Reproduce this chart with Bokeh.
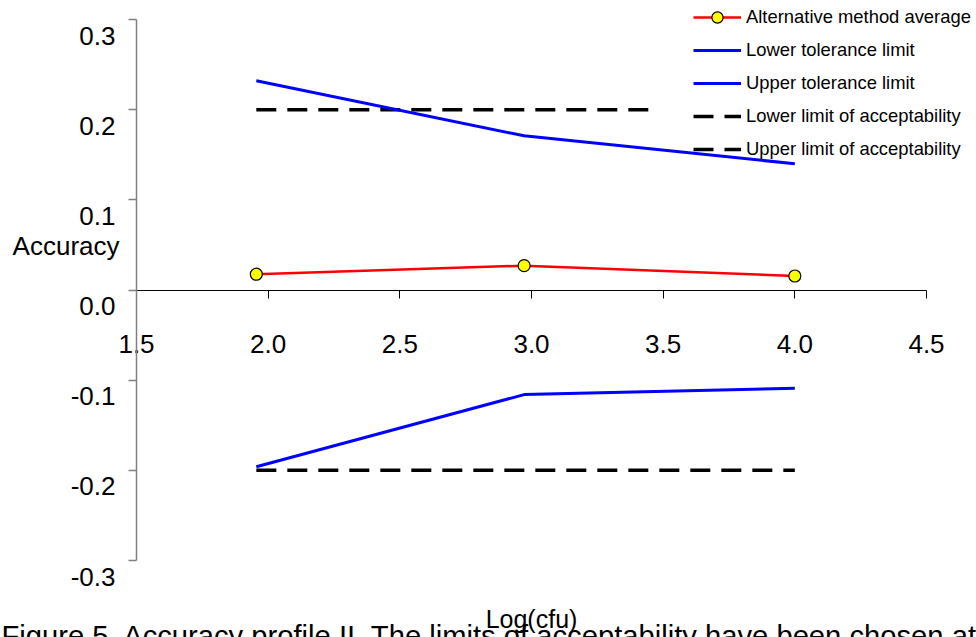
from bokeh.plotting import figure
from bokeh.models import Range1d, LinearAxis, FixedTicker, Legend, LegendItem, Label, CustomJSTickFormatter
from bokeh.core.properties import value
from bokeh.embed import file_html
from bokeh.resources import INLINE

# ---- data ----
log_cfu = [1.955, 2.972, 4.0]
alt_mean = [0.0175, 0.027, 0.0155]
lower_tol = [-0.196, -0.116, -0.109]
upper_tol = [0.232, 0.171, 0.140]
lower_acc_x = [1.955, 4.0]
lower_acc = [-0.2, -0.2]
upper_acc_x = [1.955, 3.45]
upper_acc = [0.2, 0.2]

x_ticks = [1.5, 2.0, 2.5, 3.0, 3.5, 4.0, 4.5]
x_tick_labels = ["1.5", "2.0", "2.5", "3.0", "3.5", "4.0", "4.5"]
y_ticks = [-0.3, -0.2, -0.1, 0.0, 0.1, 0.2, 0.3]
y_tick_labels = ["-0.3", "-0.2", "-0.1", "0.0", "0.1", "0.2", "0.3"]

series_names = ["Alternative method average", "Lower tolerance limit",
                "Upper tolerance limit", "Lower limit of acceptability",
                "Upper limit of acceptability"]
caption = "Figure 5. Accuracy profile II. The limits of acceptability have been chosen at"
x_title = "Log(cfu)"
y_title = "Accuracy"

FONT = "Liberation Sans"
W, H = 976, 637
# plot area: x 1.5..4.5 spans px 136..926, y 0.3..-0.3 spans px 19..560
PX_X = (926 - 136) / 3.0
PX_Y = (560 - 19) / 0.6
x_range = Range1d(1.5 - 136 / PX_X, 1.5 + (W - 136) / PX_X)
y_range = Range1d(0.3 - (H - 19) / PX_Y, 0.3 + 19 / PX_Y)

p = figure(width=W, height=H, x_range=x_range, y_range=y_range,
           output_backend="svg", toolbar_location=None,
           x_axis_location=None, y_axis_location=None,
           min_border=0)
p.outline_line_color = None
p.grid.visible = False
p.background_fill_color = "white"
p.border_fill_color = "white"

# y axis (gray) through x = 1.5; its labels are drawn as text below the ticks
yax = LinearAxis(ticker=FixedTicker(ticks=y_ticks), fixed_location=x_ticks[0],
                 bounds=(y_ticks[0], y_ticks[-1]),
                 formatter=CustomJSTickFormatter(code="return ''"),
                 axis_line_color="#808080", axis_line_width=1.5,
                 major_tick_line_color="#808080", major_tick_line_width=1.5,
                 major_tick_out=8, major_tick_in=0, minor_tick_out=0, minor_tick_in=0)
p.add_layout(yax, "left")

# x axis drawn through y = 0
xax = LinearAxis(ticker=FixedTicker(ticks=x_ticks), fixed_location=0,
                 bounds=(x_ticks[0], x_ticks[-1]),
                 major_label_overrides={t: l for t, l in zip(x_ticks, x_tick_labels)},
                 axis_line_color="black", axis_line_width=1,
                 major_tick_line_color="black", major_tick_line_width=1,
                 major_tick_out=8, major_tick_in=0, minor_tick_out=0, minor_tick_in=0,
                 major_label_standoff=37, major_label_text_font=FONT,
                 major_label_text_font_size="26px", major_label_text_color="black")
p.add_layout(xax, "below")

p.text(x=[x_ticks[0]] * len(y_ticks), y=y_ticks, text=y_tick_labels,
       x_offset=-21, y_offset=16, text_align="right", text_baseline="alphabetic",
       text_font=value(FONT), text_font_size="26px", text_color="black")

r_lo_acc = p.line(lower_acc_x, lower_acc, line_color="black", line_width=3.5, line_dash="20 11")
r_up_acc = p.line(upper_acc_x, upper_acc, line_color="black", line_width=3.5, line_dash="20 11")
r_lo_tol = p.line(log_cfu, lower_tol, line_color="#0000ff", line_width=3)
r_up_tol = p.line(log_cfu, upper_tol, line_color="#0000ff", line_width=3)
r_mean = p.line(log_cfu, alt_mean, line_color="#ff0000", line_width=2.5)
r_pts = p.scatter(log_cfu, alt_mean, size=12, fill_color="#ffff00", line_color="black", line_width=1.2)

legend = Legend(items=[
    LegendItem(label=series_names[0], renderers=[r_mean, r_pts]),
    LegendItem(label=series_names[1], renderers=[r_lo_tol]),
    LegendItem(label=series_names[2], renderers=[r_up_tol]),
    LegendItem(label=series_names[3], renderers=[r_lo_acc]),
    LegendItem(label=series_names[4], renderers=[r_up_acc]),
], location=(693, 474), orientation="vertical", glyph_width=48, glyph_height=28,
    label_height=28, spacing=5, padding=0, margin=0, label_standoff=5,
    label_text_font=FONT, label_text_font_size="18.4px", label_text_color="black",
    border_line_alpha=0, background_fill_alpha=0)
p.add_layout(legend)

p.add_layout(Label(x=x_ticks[0], y=0.0, x_offset=-17, y_offset=44, text=y_title,
                   text_align="right", text_baseline="alphabetic",
                   text_font=FONT, text_font_size="26px", text_color="black"))
p.add_layout(Label(x=3.0, y=y_ticks[0], y_offset=-58, text=x_title,
                   text_align="center", text_baseline="alphabetic",
                   text_font=FONT, text_font_size="25px", text_color="black"))
p.add_layout(Label(x=x_ticks[0], y=y_ticks[0], x_offset=-135, y_offset=-75, text=caption,
                   text_align="left", text_baseline="alphabetic",
                   text_font=FONT, text_font_size="29.2px", text_color="black"))

open("out.html", "w").write(file_html(p, INLINE))
